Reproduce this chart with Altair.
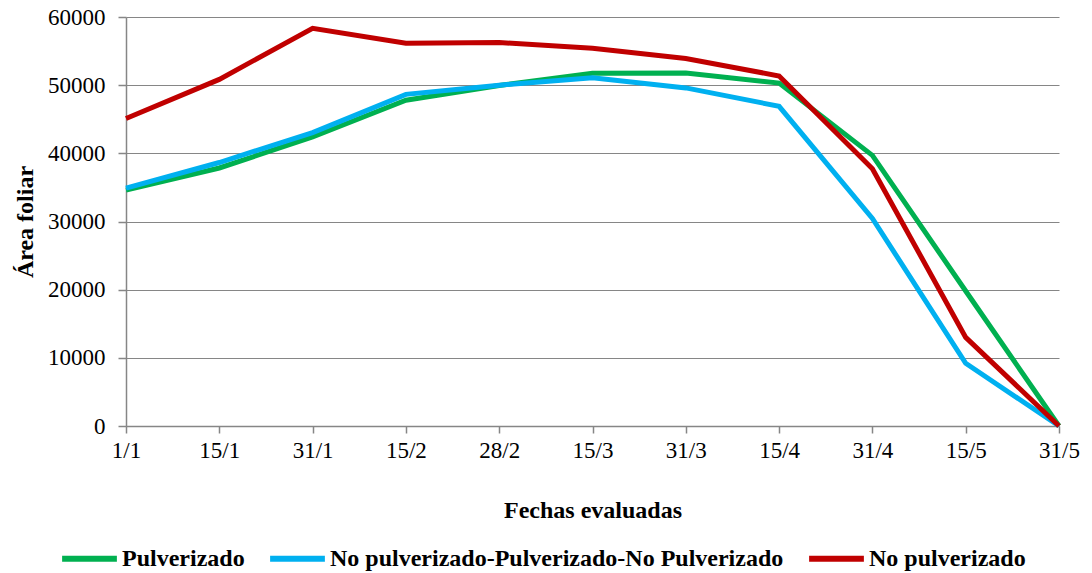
import altair as alt
import pandas as pd

fechas = ["1/1", "15/1", "31/1", "15/2", "28/2", "15/3", "31/3", "15/4", "31/4", "15/5", "31/5"]
pulverizado = [34600, 37850, 42400, 47800, 49950, 51750, 51800, 50300, 39700, 19800, 0]
mixto = [34900, 38650, 43050, 48650, 50000, 51100, 49600, 46900, 30450, 9200, 0]
no_pulverizado = [45100, 50850, 58350, 56150, 56250, 55400, 53900, 51350, 37750, 13000, 0]

series = ["Pulverizado", "No pulverizado-Pulverizado-No Pulverizado", "No pulverizado"]
colores = ["#00B050", "#00B0F0", "#C00000"]

rows = []
for name, vals in zip(series, [pulverizado, mixto, no_pulverizado]):
    for f, v in zip(fechas, vals):
        rows.append({"Fecha": f, "Valor": v, "Serie": name, "orden": series.index(name)})
df = pd.DataFrame(rows)

FONT = "Liberation Serif"

chart = alt.Chart(df).mark_line(strokeWidth=5, strokeJoin="miter", strokeCap="butt").encode(
    x=alt.X("Fecha:N", sort=fechas, scale=alt.Scale(type="point", padding=0),
            axis=alt.Axis(title="Fechas evaluadas", labelAngle=0, grid=False,
                          tickSize=7, labelPadding=6, titlePadding=36)),
    y=alt.Y("Valor:Q", scale=alt.Scale(domain=[0, 60000]),
            axis=alt.Axis(title="Área foliar", values=list(range(0, 60001, 10000)),
                          tickSize=8, labelPadding=13, titlePadding=10, format="d")),
    color=alt.Color("Serie:N", scale=alt.Scale(domain=series, range=colores),
                    legend=alt.Legend(title=None, orient="none", direction="horizontal",
                                      legendX=-67, legendY=511,
                                      symbolType="stroke", symbolSize=3000,
                                      symbolStrokeWidth=6, labelOffset=2,
                                      columnPadding=13, labelFontWeight="bold",
                                      labelFontSize=24, labelFont=FONT, labelColor="black",
                                      labelLimit=700)),
    order=alt.Order("orden:Q"),
    detail="Serie:N",
).properties(
    width=933, height=409,
    autosize=alt.AutoSizeParams(type="none"),
    padding={"left": 118, "top": 9, "right": 25, "bottom": 147},
).configure_view(stroke=None).configure_axis(
    labelFont=FONT, labelFontSize=23, labelColor="black",
    titleFont=FONT, titleFontSize=24, titleFontWeight="bold", titleColor="black",
    domainColor="#868686", tickColor="#868686", gridColor="#868686", gridWidth=1,
    domainWidth=1.5, tickWidth=1.5,
)

chart.save("out.html", embed_options={"renderer": "svg", "actions": False})
